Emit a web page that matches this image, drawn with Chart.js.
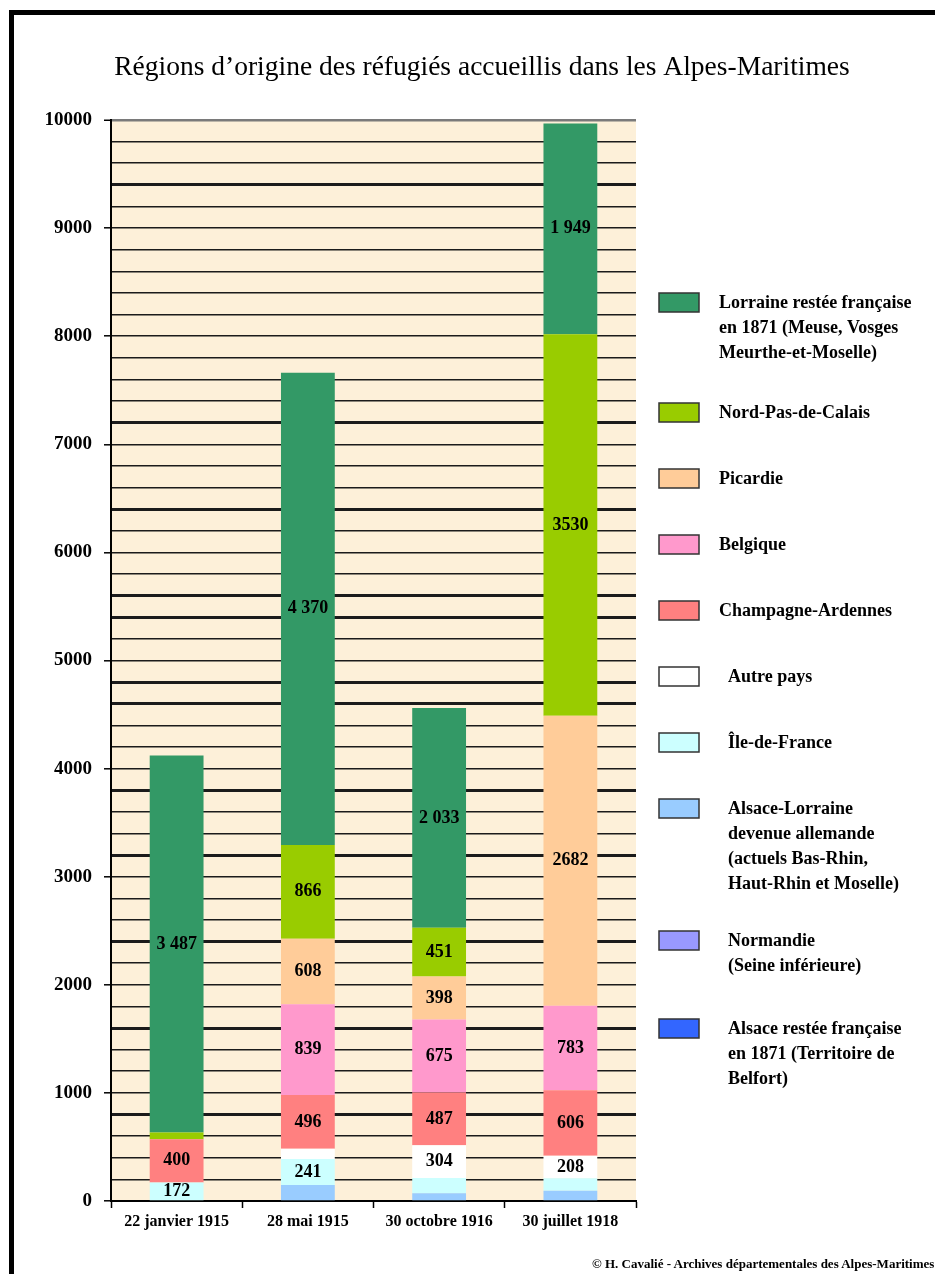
<!DOCTYPE html>
<html lang="fr">
<head>
<meta charset="utf-8">
<script src="https://cdn.jsdelivr.net/npm/chart.js@4.4.1/dist/chart.umd.min.js"></script>
<style>
  html, body { margin: 0; padding: 0; background: #fff; overflow: hidden; }
  #wrap { position: relative; width: 935px; height: 1274px; overflow: hidden; }
  #frame { position: absolute; left: 9px; top: 10px; width: 940px; height: 1280px;
           border-top: 5px solid #000; border-left: 5px solid #000; box-sizing: border-box; }
  #c { position: absolute; left: 0; top: 0; }
  #footer { position: absolute; left: 592px; top: 1256px; white-space: nowrap;
            font: bold 13px "Liberation Serif", serif; color: #000; }
</style>
</head>
<body>
<div id="wrap">
  <div id="frame"></div>
  <canvas id="c" width="935" height="1274"></canvas>
  <div id="footer">© H. Cavalié - Archives départementales des Alpes-Maritimes</div>
</div>
<script>
// ---- Data ----
const categories = ["22 janvier 1915", "28 mai 1915", "30 octobre 1916", "30 juillet 1918"];

const alsaceFrancaise = [0, 0, 0, 0];
const normandie       = [0, 8, 0, 0];
const alsaceLorraine  = [0, 140, 72, 95];
const ileDeFrance     = [172, 241, 140, 115];
const autrePays       = [0, 95, 304, 208];
const champagne       = [400, 496, 487, 606];
const belgique        = [0, 839, 675, 783];
const picardie        = [0, 608, 398, 2682];
const nordPasDeCalais = [62, 866, 451, 3530];
const lorraine        = [3487, 4370, 2033, 1949];

// displayed value labels (as printed on the original)
const lblLorraine  = ["3 487", "4 370", "2 033", "1 949"];
const lblNord      = [null, "866", "451", "3530"];
const lblPicardie  = [null, "608", "398", "2682"];
const lblBelgique  = [null, "839", "675", "783"];
const lblChampagne = ["400", "496", "487", "606"];
const lblAutre     = [null, null, "304", "208"];
const lblIle       = ["172", "241", null, null];
const lblNone      = [null, null, null, null];

const titleText = "Régions d’origine des réfugiés accueillis dans les Alpes-Maritimes";

const yMax = 10000;
const yStep = 200;
const yLabelStep = 1000;
const thickGrid = [9400, 7200, 6400, 5600, 5400, 4800, 4600, 3800, 3200, 2400, 1600, 800];

const SERIF = '"Liberation Serif", "DejaVu Serif", serif';

// ---- Plugins ----
const plotBg = {
  id: 'plotBg',
  beforeDraw(chart) {
    const a = chart.chartArea, ctx = chart.ctx;
    ctx.save();
    ctx.fillStyle = '#fdf0d9';
    ctx.fillRect(a.left, a.top, a.right - a.left, a.bottom - a.top);
    ctx.restore();
  }
};

const pageTitle = {
  id: 'pageTitle',
  afterDraw(chart) {
    const ctx = chart.ctx;
    ctx.save();
    ctx.font = '27.5px ' + SERIF;
    ctx.fillStyle = '#000';
    ctx.textAlign = 'center';
    ctx.textBaseline = 'middle';
    ctx.fillText(titleText, 482, 68);
    ctx.restore();
  }
};

const valueLabels = {
  id: 'valueLabels',
  afterDatasetsDraw(chart) {
    const ctx = chart.ctx;
    ctx.save();
    ctx.font = 'bold 18px ' + SERIF;
    ctx.fillStyle = '#000';
    ctx.textAlign = 'center';
    ctx.textBaseline = 'middle';
    chart.data.datasets.forEach((ds, i) => {
      const meta = chart.getDatasetMeta(i);
      meta.data.forEach((el, j) => {
        const t = ds.valueLabels && ds.valueLabels[j];
        if (!t) return;
        const y = (el.y + el.base) / 2;
        ctx.fillText(t, el.x, y);
      });
    });
    ctx.restore();
  }
};

const sideLegend = {
  id: 'sideLegend',
  afterDraw(chart) {
    const ctx = chart.ctx;
    const boxX = 659, boxW = 40, boxH = 19, textX = 719, lineH = 25;
    let top = 293;
    ctx.save();
    ctx.font = 'bold 18px ' + SERIF;
    ctx.textBaseline = 'middle';
    ctx.textAlign = 'left';
    const dsList = chart.data.datasets.slice().reverse();
    dsList.forEach((ds) => {
      const lines = ds.label.split('\n');
      ctx.fillStyle = ds.backgroundColor;
      ctx.fillRect(boxX, top, boxW, boxH);
      ctx.lineWidth = 1.5;
      ctx.strokeStyle = '#333';
      ctx.strokeRect(boxX, top, boxW, boxH);
      ctx.fillStyle = '#000';
      const tx = ds.legendIndent ? textX + 9 : textX;
      lines.forEach((ln, k) => {
        ctx.fillText(ln, tx, top + boxH / 2 + 1 + k * lineH);
      });
      top += 66 + (lines.length - 1) * 22;
    });
    ctx.restore();
  }
};

// ---- Chart ----
function ds(label, data, color, labels, indent) {
  return {
    label: label, data: data, backgroundColor: color,
    borderWidth: 0, valueLabels: labels, legendIndent: !!indent,
    barPercentage: 0.41, categoryPercentage: 1.0
  };
}

new Chart(document.getElementById('c'), {
  type: 'bar',
  data: {
    labels: categories,
    datasets: [
      ds("Alsace restée française\nen 1871 (Territoire de\nBelfort)", alsaceFrancaise, '#3366ff', lblNone, true),
      ds("Normandie\n(Seine inférieure)", normandie, '#9999ff', lblNone, true),
      ds("Alsace-Lorraine\ndevenue allemande\n(actuels Bas-Rhin,\nHaut-Rhin et Moselle)", alsaceLorraine, '#99ccff', lblNone, true),
      ds("Île-de-France", ileDeFrance, '#ccffff', lblIle, true),
      ds("Autre pays", autrePays, '#ffffff', lblAutre, true),
      ds("Champagne-Ardennes", champagne, '#ff8080', lblChampagne),
      ds("Belgique", belgique, '#ff99cc', lblBelgique),
      ds("Picardie", picardie, '#ffcc99', lblPicardie),
      ds("Nord-Pas-de-Calais", nordPasDeCalais, '#99cc00', lblNord),
      ds("Lorraine restée française\nen 1871 (Meuse, Vosges\nMeurthe-et-Moselle)", lorraine, '#339966', lblLorraine)
    ]
  },
  options: {
    responsive: false,
    animation: false,
    layout: { padding: { left: 15, right: 299, top: 120, bottom: 0 } },
    plugins: {
      legend: { display: false },
      tooltip: { enabled: false },
      title: { display: false }
    },
    scales: {
      x: {
        stacked: true,
        offset: true,
        grid: {
          offset: true, drawOnChartArea: false, drawTicks: true,
          tickLength: 7, tickColor: '#000', tickWidth: 1.5
        },
        border: { color: '#000', width: 2 },
        ticks: {
          color: '#000', padding: 4,
          font: { family: SERIF, size: 16, weight: 'bold' },
          maxRotation: 0, autoSkip: false
        },
        afterFit(scale) { scale.height = 73; }
      },
      y: {
        stacked: true,
        min: 0, max: yMax,
        grid: {
          drawTicks: true, tickLength: 7,
          color(ctx) {
            const v = ctx.tick ? ctx.tick.value : 0;
            if (v === yMax) return '#7a7a7a';
            if (v === 0) return 'rgba(0,0,0,0)';
            return '#1b1b1b';
          },
          lineWidth(ctx) {
            const v = ctx.tick ? ctx.tick.value : 0;
            if (v === yMax) return 2.5;
            return thickGrid.includes(v) ? 3 : 1.6;
          },
          tickColor(ctx) {
            const v = ctx.tick ? ctx.tick.value : 0;
            return v % yLabelStep === 0 ? '#000' : 'rgba(0,0,0,0)';
          },
          tickWidth: 1.5
        },
        border: { color: '#000', width: 2 },
        ticks: {
          stepSize: yStep, autoSkip: false, padding: 12, color: '#000',
          font: { family: SERIF, size: 19, weight: 'bold' },
          callback(v) { return v % yLabelStep === 0 ? String(v) : ''; }
        },
        afterFit(scale) { scale.width = 96; }
      }
    }
  },
  plugins: [plotBg, valueLabels, sideLegend, pageTitle]
});
</script>
</body>
</html>
